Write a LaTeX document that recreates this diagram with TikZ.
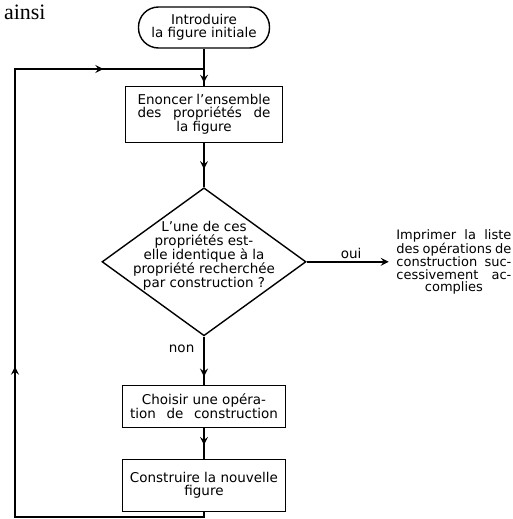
\documentclass[tikz,border=0pt]{standalone}
\usepackage{fontspec}
\setmainfont{DejaVu Sans}
\newfontfamily\ainsifont{Liberation Serif}
\usetikzlibrary{arrows.meta,positioning,shapes.geometric,decorations.markings}
\newcommand\spread[2]{\makebox[#1][s]{#2}}

\begin{document}
\begin{tikzpicture}[x=1pt,y=-1pt,font=\fontsize{13.5}{13}\selectfont,>={Stealth[length=8pt,width=8pt,inset=3pt]},line width=1.4pt]
\tikzset{stepbox/.style={draw,minimum width=157pt,minimum height=56pt,align=center,inner sep=2pt}, term/.style={draw,rounded corners=20pt,minimum width=131pt,minimum height=41pt,align=center,inner sep=2pt}, test/.style={draw,diamond,minimum width=204pt,minimum height=148pt,inner sep=0pt}, flow/.style={draw,line width=1.4pt}, tipat/.style={postaction={decorate,decoration={markings,mark=at position #1 with {\arrow{>}}}}}}
\useasboundingbox (0,0) rectangle (513,519);
\node[anchor=base west,font=\ainsifont\fontsize{22}{22}\selectfont] (ainsi) at (0,20) {ainsi};
\node[term] (intro) at (204,27.5) {Introduire\\la figure initiale};
\node[stepbox,below=37pt of intro] (enonce) {\spread{133pt}{Enoncer l'ensemble}\\\spread{133pt}{des propriétés de}\\la figure};
\node[test,below=44pt of enonce] (question) {};
\node[align=center,font=\fontsize{13.5}{14}\selectfont] (questxt) at ([yshift=6pt]question.center) {L'une de ces\\propriétés est-\\elle identique à la\\propriété recherchée\\par construction ?};
\node[stepbox,minimum width=163pt,minimum height=42pt,below=48pt of question] (choix) {Choisir une opéra-\\\spread{148pt}{tion de construction}};
\node[stepbox,minimum width=163pt,minimum height=52pt,below=31pt of choix] (construit) {Construire la nouvelle\\figure};
\node[right=89pt of question,align=center,inner sep=0pt,font=\fontsize{13}{12.5}\selectfont] (imprime) {\spread{115pt}{Imprimer la liste}\\\spread{115pt}{des opérations de}\\\spread{115pt}{construction suc-}\\\spread{115pt}{cessivement ac-}\\complies};
\coordinate (join) at (204,69);
\coordinate (botleft) at (15,517);
\draw[flow,tipat=34pt] (intro) -- (enonce); \draw[flow,tipat=26pt] (enonce) -- (question); \draw[flow,tipat=40pt] (question) -- (choix) node[pos=0.25,left=8pt,inner sep=1pt] {non}; \draw[flow,tipat=17pt] (choix) -- (construit);
\draw[flow,->,shorten >=7pt] (question.east) -- (question.east -| imprime.west) node[midway,above=1pt,inner sep=1pt] {oui};
\draw[flow,tipat=344pt,tipat=730pt] (construit.south) |- (botleft) |- (join);
\end{tikzpicture}
\end{document}
